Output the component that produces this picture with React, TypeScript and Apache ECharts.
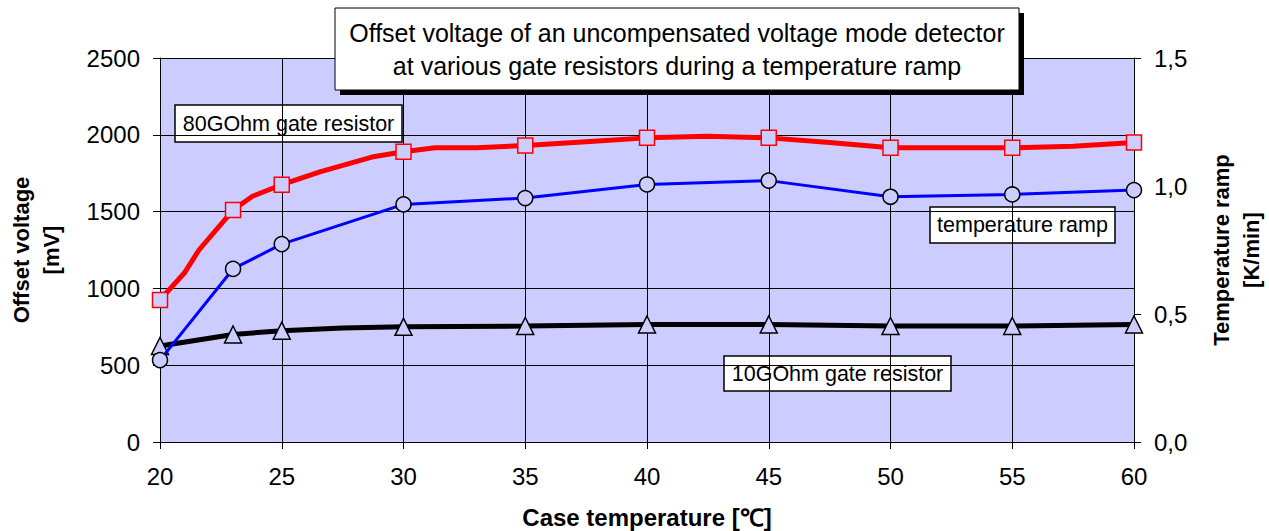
import React, { useEffect, useRef } from "react";
import * as echarts from "echarts";

// Case temperature (°C) where markers are drawn
const temps = [20, 23, 25, 30, 35, 40, 45, 50, 55, 60];
// 80 GOhm gate resistor offset voltage (mV), marker points
const offset80G = [925, 1510, 1675, 1890, 1930, 1980, 1980, 1915, 1915, 1950];
// 80 GOhm curve: additional unmarked points along the curve
const extra80GX = [21, 21.6, 23.8, 26.6, 28.7, 31.3, 33, 37.5, 42.5, 47.5, 57.5];
const extra80GY = [1100, 1250, 1600, 1760, 1855, 1915, 1915, 1955, 1990, 1950, 1925];
// 10 GOhm gate resistor offset voltage (mV)
const offset10G = [625, 700, 725, 750, 755, 765, 765, 755, 755, 765];
const extra10GX = [27.5];
const extra10GY = [742];
// temperature ramp (K/min), right axis
const ramp = [0.32, 0.676, 0.773, 0.928, 0.953, 1.006, 1.021, 0.958, 0.967, 0.984];

const titleLines = [
  "Offset voltage of an uncompensated voltage mode detector",
  "at various gate resistors during a temperature ramp",
];

const FONT = "'Liberation Sans', Arial, sans-serif";
const PLOT_BG = "#CCCCFF";

function buildCurve(mx: number[], my: number[], ex: number[], ey: number[], symbol: string) {
  const pts: { x: number; y: number; m: boolean }[] = [];
  mx.forEach((x, i) => pts.push({ x, y: my[i], m: true }));
  ex.forEach((x, i) => pts.push({ x, y: ey[i], m: false }));
  pts.sort((a, b) => a.x - b.x);
  return pts.map((p) => ({ value: [p.x, p.y], symbol: p.m ? symbol : "none" }));
}

function labelBox(x: number, y: number, w: number, h: number, text: string, fontSize: number, lw = 1.5) {
  return {
    type: "group",
    children: [
      { type: "rect", shape: { x, y, width: w, height: h }, style: { fill: "#fff", stroke: "#000", lineWidth: lw } },
      {
        type: "text",
        x: x + w / 2,
        y: y + h / 2,
        style: { text, fill: "#000", font: `${fontSize}px ${FONT}`, align: "center", verticalAlign: "middle" },
      },
    ],
  };
}

export default function App() {
  const ref = useRef<HTMLDivElement>(null);
  useEffect(() => {
    if (!ref.current) return;
    const chart = echarts.init(ref.current, undefined, { renderer: "svg" });
    const axisLabel = { color: "#000", fontSize: 24, fontFamily: FONT };
    const nameStyle = { color: "#000", fontSize: 22, fontWeight: "bold", fontFamily: FONT, lineHeight: 30 };
    const option = {
      animation: false,
      backgroundColor: "#fff",
      grid: {
        left: 160,
        right: 135,
        top: 58,
        bottom: 89,
        show: true,
        backgroundColor: PLOT_BG,
        borderWidth: 0,
        containLabel: false,
        outerBoundsMode: "none",
      },
      xAxis: {
        type: "value",
        min: 20,
        max: 60,
        interval: 5,
        name: "Case temperature [℃]",
        nameLocation: "middle",
        nameGap: 62,
        nameTextStyle: { ...nameStyle, fontSize: 24, lineHeight: 26 },
        axisLine: { show: true, onZero: false, lineStyle: { color: "#000", width: 1 } },
        axisTick: { show: true, inside: false, length: 7, lineStyle: { color: "#000" } },
        axisLabel: { ...axisLabel, margin: 22 },
        splitLine: { show: true, lineStyle: { color: "#000", width: 1 } },
      },
      yAxis: [
        {
          type: "value",
          min: 0,
          max: 2500,
          interval: 500,
          position: "left",
          name: "Offset voltage\n[mV]",
          nameLocation: "middle",
          nameRotate: 90,
          nameGap: 94,
          nameTextStyle: nameStyle,
          axisLine: { show: true, lineStyle: { color: "#000", width: 1 } },
          axisTick: { show: true, inside: false, length: 7, lineStyle: { color: "#000" } },
          axisLabel: { ...axisLabel, margin: 20, formatter: (v: number) => String(v) },
          splitLine: { show: true, lineStyle: { color: "#000", width: 1 } },
        },
        {
          type: "value",
          min: 0,
          max: 1.5,
          interval: 0.5,
          position: "right",
          name: "Temperature ramp\n[K/min]",
          nameLocation: "middle",
          nameRotate: 90,
          nameGap: 72,
          nameTextStyle: nameStyle,
          axisLine: { show: true, lineStyle: { color: "#000", width: 1 } },
          axisTick: { show: true, inside: false, length: 7, lineStyle: { color: "#000" } },
          axisLabel: {
            ...axisLabel,
            margin: 20,
            formatter: (v: number) => v.toFixed(1).replace(".", ","),
          },
          splitLine: { show: false },
        },
      ],
      series: [
        {
          name: "10GOhm gate resistor",
          type: "line",
          yAxisIndex: 0,
          data: buildCurve(temps, offset10G, extra10GX, extra10GY, "triangle"),
          symbolSize: 17,
          lineStyle: { color: "#000", width: 5 },
          itemStyle: { color: PLOT_BG, borderColor: "#000", borderWidth: 1.5 },
          z: 3,
        },
        {
          name: "temperature ramp",
          type: "line",
          yAxisIndex: 1,
          data: buildCurve(temps, ramp, [], [], "circle"),
          symbolSize: 15,
          lineStyle: { color: "#0000FF", width: 3 },
          itemStyle: { color: PLOT_BG, borderColor: "#000", borderWidth: 1.5 },
          z: 4,
        },
        {
          name: "80GOhm gate resistor",
          type: "line",
          yAxisIndex: 0,
          data: buildCurve(temps, offset80G, extra80GX, extra80GY, "rect"),
          symbolSize: 15,
          lineStyle: { color: "#FF0000", width: 5 },
          itemStyle: { color: PLOT_BG, borderColor: "#FF0000", borderWidth: 1.5 },
          z: 5,
        },
      ],
      graphic: [
        { type: "rect", shape: { x: 340, y: 13, width: 684, height: 82 }, style: { fill: "#000" }, z: 10 },
        {
          type: "rect",
          shape: { x: 335, y: 8, width: 684, height: 82 },
          style: { fill: "#fff", stroke: "#000", lineWidth: 1 },
          z: 11,
        },
        {
          type: "text",
          x: 677,
          y: 33,
          z: 12,
          style: { text: titleLines[0], fill: "#000", font: `25px ${FONT}`, align: "center", verticalAlign: "middle" },
        },
        {
          type: "text",
          x: 677,
          y: 66,
          z: 12,
          style: { text: titleLines[1], fill: "#000", font: `25px ${FONT}`, align: "center", verticalAlign: "middle" },
        },
        { ...labelBox(175, 105, 227, 37, "80GOhm gate resistor", 21.5), z: 12 },
        { ...labelBox(930, 207, 185, 36, "temperature ramp", 21.5), z: 12 },
        { ...labelBox(724, 356, 227, 35, "10GOhm gate resistor", 21.5), z: 12 },
      ],
    };
    chart.setOption(option as any);
    return () => chart.dispose();
  }, []);
  return (
    <div
      ref={ref}
      style={{ position: "fixed", left: 0, top: 0, width: 1269, height: 531, background: "#fff" }}
    />
  );
}
